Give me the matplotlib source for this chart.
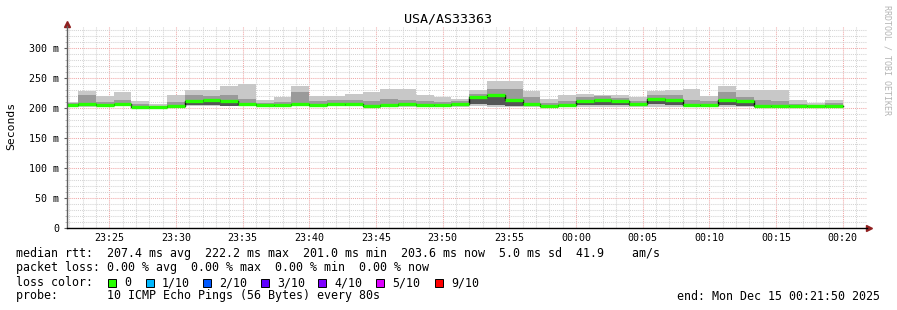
#!/usr/bin/env python3

from datetime import datetime, timedelta

import matplotlib

matplotlib.use("Agg")
import matplotlib.dates as mdates
import matplotlib.pyplot as plt
from matplotlib.ticker import FuncFormatter, MultipleLocator

# --- data (ms, one value per 80 s step) ---
median = [205, 207, 205, 207, 201.5, 201.0, 203, 211, 214, 212, 206, 204.5,
          205, 207, 205, 207, 206.5, 204, 204.5, 206, 205.5, 204.5, 207, 218,
          222.2, 213, 207, 203, 204.5, 211, 214, 212, 207, 215, 214, 205,
          205.5, 214, 212, 203, 203, 203, 203, 203.6]
ping_max = [210, 228, 220, 226, 211, 207, 222, 230.6, 230.6, 237, 240, 214,
            218, 237, 220.6, 220.6, 223.4, 226.7, 232, 232, 222, 218, 215.6,
            229.5, 245.6, 245.6, 228, 215.6, 222, 223, 222, 222, 218, 229,
            230.6, 232, 220.6, 236, 230.6, 230.6, 230.6, 214, 208.4, 214]
ping_min = [202, 202, 202, 203, 200, 200, 201, 204, 203, 203, 203, 202,
            202, 203, 202, 203, 203, 201, 202, 202, 202, 202, 202, 203,
            201, 202, 202, 201, 201, 202, 202, 202, 202, 202, 202, 201,
            202, 201, 202, 201, 201, 201, 201, 201]
q_hi = [208, 222, 210, 214, 206, 204, 210, 222, 220, 222, 215, 209,
        210, 226, 212, 213, 214, 212, 215, 214, 212, 210, 211, 224,
        232, 232, 218, 208, 212, 218, 220, 217, 212, 222, 222, 214,
        211, 226, 219, 214, 212, 207, 205, 208]
q_lo = [203, 204, 203, 204, 200.5, 200.5, 202, 205, 205, 204, 204, 203,
        203, 204, 203, 204, 204, 202, 203, 203, 203, 203, 203, 206,
        205, 204, 204, 202, 203, 205, 205, 205, 204, 207, 205, 203,
        203, 205, 204, 202, 202, 202, 202, 202]

first_step = datetime(2025, 12, 14, 23, 21, 20)
step_seconds = 80
window_start = datetime(2025, 12, 14, 23, 21, 50)
window_end = datetime(2025, 12, 15, 0, 21, 50)

legend_lines = [
    "median rtt:  207.4 ms avg  222.2 ms max  201.0 ms min  203.6 ms now  5.0 ms sd  41.9    am/s",
    "packet loss: 0.00 % avg  0.00 % max  0.00 % min  0.00 % now",
    "loss color:",
    "probe:       10 ICMP Echo Pings (56 Bytes) every 80s",
]
loss_labels = ["0", "1/10", "2/10", "3/10", "4/10", "5/10", "9/10"]
loss_colors = ["#26ff00", "#00b8ff", "#0059ff", "#5e00ff", "#7e00ff", "#dd00ff", "#ff0000"]
loss_box_x = [108, 146, 203, 261, 318, 376, 435]

W, H = 897, 310
MONO = "DejaVu Sans Mono"


def px(x, y):
    return x / W, 1 - y / H


def stepped(vals):
    return list(vals) + [vals[-1]]


edges = [first_step + timedelta(seconds=step_seconds * i) for i in range(len(median) + 1)]

fig = plt.figure(figsize=(W / 100, H / 100), dpi=100)
ax = fig.add_axes([67 / W, 82 / H, 800 / W, 201.6 / H])
ax.set_axisbelow(True)

ax.fill_between(edges, stepped(ping_min), stepped(ping_max), step="post", color="#c8c8c8", lw=0, zorder=2)
ax.fill_between(edges, stepped(median), stepped(q_hi), step="post", color="#9a9a9a", lw=0, zorder=2)
ax.fill_between(edges, stepped(q_lo), stepped(median), step="post", color="#555555", lw=0, zorder=2)
ax.step(edges, stepped(median), where="post", color="black", lw=1, zorder=3)
ax.hlines(median, edges[:-1], edges[1:], color=loss_colors[0], lw=2.4, zorder=4)

ax.set_xlim(window_start, window_end)
ax.set_ylim(0, 336)

ax.xaxis.set_major_locator(mdates.MinuteLocator(byminute=range(0, 60, 5)))
ax.xaxis.set_minor_locator(mdates.MinuteLocator())
ax.xaxis.set_major_formatter(mdates.DateFormatter("%H:%M"))
ax.yaxis.set_major_locator(MultipleLocator(50))
ax.yaxis.set_minor_locator(MultipleLocator(10))
ax.yaxis.set_major_formatter(FuncFormatter(lambda v, _: "0" if v == 0 else f"{v:.0f} m"))

dots = (0, (1, 1))
ax.grid(which="minor", color="#d4d4d4", lw=0.75, linestyle=dots)
ax.grid(which="major", color="#f0a8a8", lw=0.75, linestyle=dots)

for side in ("top", "right"):
    ax.spines[side].set_visible(False)
ax.spines["left"].set_color("#606060")
ax.spines["bottom"].set_color("black")
ax.spines["left"].set_linewidth(1)
ax.spines["bottom"].set_linewidth(1)
ax.spines["left"].set_zorder(5)
ax.spines["bottom"].set_zorder(5)

ax.tick_params(axis="x", which="both", length=0, pad=3.5, labelsize=7.2)
ax.tick_params(axis="y", which="major", length=2, pad=3.5, labelsize=7.2, color="#606060")
ax.tick_params(axis="y", which="minor", length=1.5, color="#b0b0b0")
for lab in ax.get_xticklabels() + ax.get_yticklabels():
    lab.set_family(MONO)

# axis arrows
ax.plot([0], [1.012], marker="^", ms=5, color="#902020", transform=ax.transAxes, clip_on=False)
ax.plot([1.003], [0], marker=">", ms=5, color="#902020", transform=ax.transAxes, clip_on=False)

fig.text(*px(448, 19), "USA/AS33363", ha="center", va="center", family=MONO, fontsize=9.6)
fig.text(*px(11, 126), "Seconds", ha="center", va="center", rotation=90, family=MONO, fontsize=8.2)
fig.text(*px(887, 60), "RRDTOOL / TOBI OETIKER", ha="center", va="center", rotation=270,
         family=MONO, fontsize=6, color="#b4b4b4")

line_y = [254, 268, 282.5, 296]
for text, y in zip(legend_lines, line_y):
    fig.text(*px(16, y), text, ha="left", va="center", family=MONO, fontsize=8.4)

for label, color, x in zip(loss_labels, loss_colors, loss_box_x):
    bx, by = px(x, 287)
    fig.patches.append(plt.Rectangle((bx, by), 7.5 / W, 8 / H, transform=fig.transFigure,
                                     facecolor=color, edgecolor="black", lw=0.7))
    fig.text(*px(x + 16, line_y[2]), label, ha="left", va="center", family=MONO, fontsize=8.4)

fig.text(*px(880, line_y[3]), "end: Mon Dec 15 00:21:50 2025", ha="right", va="center",
         family=MONO, fontsize=8.4)

fig.savefig("out.png", dpi=100)
